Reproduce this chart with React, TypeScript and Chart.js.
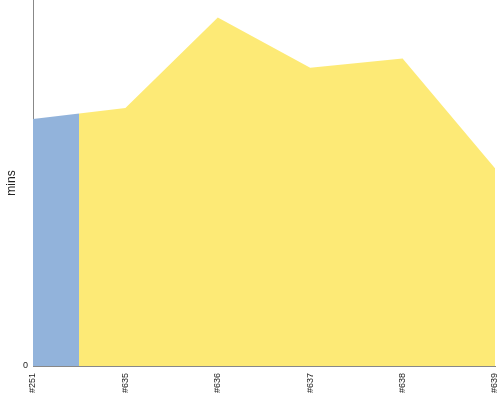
import React, { useEffect, useRef } from "react";
import { Chart, registerables } from "chart.js";

Chart.register(...registerables);

const builds = ["#251", "#635", "#636", "#637", "#638", "#639"];
const durations = [27.0, 28.2, 38.1, 32.6, 33.6, 21.6];
const yMax = 40;

const BLUE = "#92b3db";
const YELLOW = "#fdea76";
const AXIS = "#888888";

export default function App() {
  const ref = useRef<HTMLCanvasElement | null>(null);
  useEffect(() => {
    if (!ref.current) return;
    const chart = new Chart(ref.current, {
      type: "line",
      data: {
        labels: builds,
        datasets: [
          {
            data: durations,
            fill: "origin",
            borderWidth: 0,
            pointRadius: 0,
            tension: 0,
            borderColor: "rgba(0,0,0,0)",
            backgroundColor: (ctx: any) => {
              const c = ctx.chart;
              const area = c.chartArea;
              if (!area || !c.scales.x) return YELLOW;
              const xs = c.scales.x;
              const mid = (xs.getPixelForValue(0) + xs.getPixelForValue(1)) / 2;
              const s = Math.min(1, Math.max(0, (mid - area.left) / (area.right - area.left)));
              const g = c.ctx.createLinearGradient(area.left, 0, area.right, 0);
              g.addColorStop(0, BLUE);
              g.addColorStop(s, BLUE);
              g.addColorStop(s, YELLOW);
              g.addColorStop(1, YELLOW);
              return g;
            },
          },
        ],
      },
      options: {
        responsive: false,
        animation: false,
        layout: { padding: 0 },
        plugins: { legend: { display: false }, tooltip: { enabled: false } },
        scales: {
          x: {
            offset: false,
            grid: { display: false, drawTicks: false },
            border: { color: AXIS, width: 1 },
            ticks: {
              minRotation: 90,
              maxRotation: 90,
              color: "#222",
              font: { family: "Arial", size: 9 },
              padding: 7,
            },
            afterFit: (s: any) => {
              s.height = 34;
              s.paddingLeft = 0;
              s.paddingRight = 5;
            },
          },
          y: {
            min: 0,
            max: yMax,
            grid: { display: false, drawTicks: false },
            border: { color: AXIS, width: 1 },
            ticks: {
              stepSize: yMax,
              color: "#222",
              font: { family: "Arial", size: 9 },
              padding: 5,
              callback: (v: any) => (v === 0 ? "0" : ""),
            },
            title: {
              display: true,
              text: "mins",
              color: "#222",
              font: { family: "Arial", size: 12 },
              padding: { top: 4, bottom: 0 },
            },
            afterFit: (s: any) => {
              s.width = 33;
              s.paddingTop = 0;
              s.paddingBottom = 0;
            },
          },
        },
      },
    });
    return () => chart.destroy();
  }, []);
  return (
    <div style={{ position: "absolute", left: 0, top: 0, width: 500, height: 400, background: "#fff" }}>
      <canvas ref={ref} width={500} height={400} style={{ display: "block" }} />
    </div>
  );
}
